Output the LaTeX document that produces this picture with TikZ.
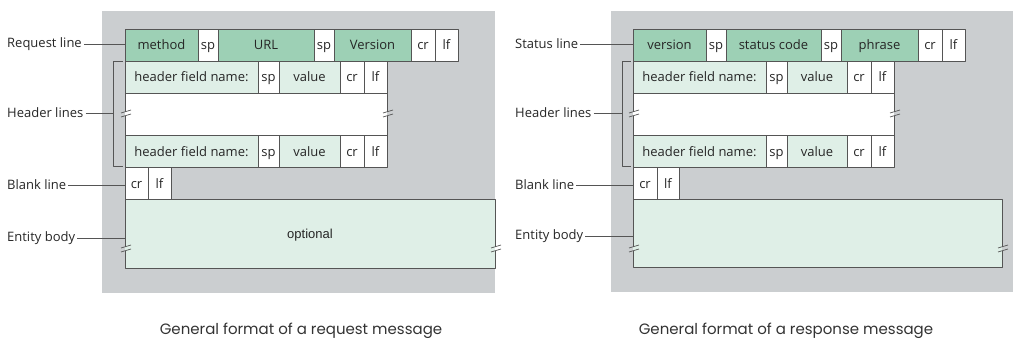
\documentclass[tikz,border=0pt]{standalone}
\usepackage{fontspec}
\setmainfont{Open Sans}
\newfontfamily\capfont{Poppins}
\newfontfamily\arialfont{Liberation Sans}
\definecolor{panelgray}{RGB}{203,206,208}
\definecolor{dkgreen}{RGB}{157,208,181}
\definecolor{ltgreen}{RGB}{223,239,231}
\definecolor{edgegray}{RGB}{85,85,85}
\tikzset{
  fld/.style={draw=edgegray, line width=0.8pt, anchor=north west, minimum height=32pt,
    inner sep=0pt, outer sep=0pt, text height=11pt, text depth=1pt,
    font=\fontsize{13}{15}\selectfont, text=black!85},
  dk/.style={fld, fill=dkgreen},
  lt/.style={fld, fill=ltgreen},
  wh/.style={fld, fill=white},
  lbl/.style={anchor=west, inner sep=2pt, font=\fontsize{13}{15}\selectfont, text=black!85},
  lead/.style={draw=edgegray, line width=0.6pt},
  captxt/.style={font=\capfont\fontsize{15}{17}\selectfont, text=black!80},
}
% break mark on a vertical edge: position, colour left, colour right
\newcommand{\brkmark}[3]{%
  \begin{scope}[shift={#1}]
    \fill[#2] (-1,-2.3) rectangle (0,1.9);
    \fill[#3] (0,-2.3) rectangle (1,1.9);
    \draw[edgegray, line width=0.7pt] (-4,-1) -- (6,-4);
    \draw[edgegray, line width=0.7pt] (-4,3) -- (6,0);
  \end{scope}}
\begin{document}
\begin{tikzpicture}[x=1pt, y=-1pt, line join=round]
  \useasboundingbox (0,0) rectangle (1013,345);

  % Grey panels
  \fill[panelgray] (102,11) rectangle (495,293);
  \fill[panelgray] (611,11) rectangle (1013,292);

  % ---------- Request message ----------
  % Request line
  \node[dk, minimum width=73pt] (rq-method) at (125,29) {method};
  \node[wh, minimum width=20pt] (rq-sp1) at (rq-method.north east) {sp};
  \node[dk, minimum width=96pt] (rq-url) at (rq-sp1.north east) {URL};
  \node[wh, minimum width=20pt] (rq-sp2) at (rq-url.north east) {sp};
  \node[dk, minimum width=77pt] (rq-ver) at (rq-sp2.north east) {Version};
  \node[wh, minimum width=24pt] (rq-cr0) at (rq-ver.north east) {cr};
  \node[wh, minimum width=23pt] (rq-lf0) at (rq-cr0.north east) {lf};

  % Header lines
  \node[lt, minimum width=133pt] (rq-h1name) at (rq-method.south west) {header field name:};
  \node[wh, minimum width=21pt] (rq-h1sp) at (rq-h1name.north east) {sp};
  \node[lt, minimum width=61pt] (rq-h1val) at (rq-h1sp.north east) {value};
  \node[wh, minimum width=24pt] (rq-h1cr) at (rq-h1val.north east) {cr};
  \node[wh, minimum width=23pt] (rq-h1lf) at (rq-h1cr.north east) {lf};
  \node[wh, minimum width=262pt, minimum height=42pt] (rq-gap) at (rq-h1name.south west) {};
  \node[lt, minimum width=133pt] (rq-h2name) at (rq-gap.south west) {header field name:};
  \node[wh, minimum width=21pt] (rq-h2sp) at (rq-h2name.north east) {sp};
  \node[lt, minimum width=61pt] (rq-h2val) at (rq-h2sp.north east) {value};
  \node[wh, minimum width=24pt] (rq-h2cr) at (rq-h2val.north east) {cr};
  \node[wh, minimum width=23pt] (rq-h2lf) at (rq-h2cr.north east) {lf};

  % Blank line and entity body
  \node[wh, minimum width=23pt] (rq-cr) at (rq-h2name.south west) {cr};
  \node[wh, minimum width=23pt] (rq-lf) at (rq-cr.north east) {lf};
  \node[lt, minimum width=370pt, minimum height=69pt] (rq-body) at (rq-cr.south west)
    {\arialfont optional\hspace{18pt}};

  % Break marks
  \brkmark{(125,114)}{panelgray}{white}
  \brkmark{(387,114)}{white}{panelgray}
  \brkmark{(125,249)}{panelgray}{ltgreen}
  \brkmark{(495,249)}{ltgreen}{white}

  % Bracket for the header lines
  \draw[lead] (123,61) -- (113,61) -- (113,166) -- (123,166);
  \coordinate (rq-brk) at (113,113);

  % Labels
  \node[lbl] (rq-lreq) at (5,44) {Request line};
  \node[lbl] (rq-lhdr) at (5,113) {Header lines};
  \node[lbl] (rq-lblank) at (5,185) {Blank line};
  \node[lbl] (rq-lbody) at (5,238) {Entity body};
  \draw[lead] (rq-lreq.east) -- (rq-lreq.east -| rq-method.west);
  \draw[lead] (rq-lhdr.east) -- (rq-lhdr.east -| rq-brk);
  \draw[lead] (rq-lblank.east) -- (rq-lblank.east -| rq-cr.west);
  \draw[lead] (rq-lbody.east) -- (rq-lbody.east -| rq-body.west);

  \node[captxt] (rq-cap) at (301,331) {General format of a request message};

  % ---------- Response message ----------
  % Status line
  \node[dk, minimum width=73pt] (rs-ver) at (633,29) {version};
  \node[wh, minimum width=20pt] (rs-sp1) at (rs-ver.north east) {sp};
  \node[dk, minimum width=95pt] (rs-code) at (rs-sp1.north east) {status code};
  \node[wh, minimum width=20pt] (rs-sp2) at (rs-code.north east) {sp};
  \node[dk, minimum width=77pt] (rs-phrase) at (rs-sp2.north east) {phrase};
  \node[wh, minimum width=24pt] (rs-cr0) at (rs-phrase.north east) {cr};
  \node[wh, minimum width=23pt] (rs-lf0) at (rs-cr0.north east) {lf};

  % Header lines
  \node[lt, minimum width=133pt] (rs-h1name) at (rs-ver.south west) {header field name:};
  \node[wh, minimum width=21pt] (rs-h1sp) at (rs-h1name.north east) {sp};
  \node[lt, minimum width=60pt] (rs-h1val) at (rs-h1sp.north east) {value};
  \node[wh, minimum width=24pt] (rs-h1cr) at (rs-h1val.north east) {cr};
  \node[wh, minimum width=23pt] (rs-h1lf) at (rs-h1cr.north east) {lf};
  \node[wh, minimum width=261pt, minimum height=42pt] (rs-gap) at (rs-h1name.south west) {};
  \node[lt, minimum width=133pt] (rs-h2name) at (rs-gap.south west) {header field name:};
  \node[wh, minimum width=21pt] (rs-h2sp) at (rs-h2name.north east) {sp};
  \node[lt, minimum width=60pt] (rs-h2val) at (rs-h2sp.north east) {value};
  \node[wh, minimum width=24pt] (rs-h2cr) at (rs-h2val.north east) {cr};
  \node[wh, minimum width=23pt] (rs-h2lf) at (rs-h2cr.north east) {lf};

  % Blank line and entity body
  \node[wh, minimum width=24pt] (rs-cr) at (rs-h2name.south west) {cr};
  \node[wh, minimum width=22pt] (rs-lf) at (rs-cr.north east) {lf};
  \node[lt, minimum width=369pt, minimum height=68pt] (rs-body) at (rs-cr.south west) {};

  % Break marks
  \brkmark{(633,114)}{panelgray}{white}
  \brkmark{(894,114)}{white}{panelgray}
  \brkmark{(633,249)}{panelgray}{ltgreen}
  \brkmark{(1002,249)}{ltgreen}{panelgray}

  % Bracket for the header lines
  \draw[lead] (631,61) -- (622,61) -- (622,166) -- (631,166);
  \coordinate (rs-brk) at (622,113);

  % Labels
  \node[lbl] (rs-lstat) at (513,44) {Status line};
  \node[lbl] (rs-lhdr) at (513,113) {Header lines};
  \node[lbl] (rs-lblank) at (513,185) {Blank line};
  \node[lbl] (rs-lbody) at (513,236) {Entity body};
  \draw[lead] (rs-lstat.east) -- (rs-lstat.east -| rs-ver.west);
  \draw[lead] (rs-lhdr.east) -- (rs-lhdr.east -| rs-brk);
  \draw[lead] (rs-lblank.east) -- (rs-lblank.east -| rs-cr.west);
  \draw[lead] (rs-lbody.east) -- (rs-lbody.east -| rs-body.west);

  \node[captxt] (rs-cap) at (786,331) {General format of a response message};
\end{tikzpicture}
\end{document}
